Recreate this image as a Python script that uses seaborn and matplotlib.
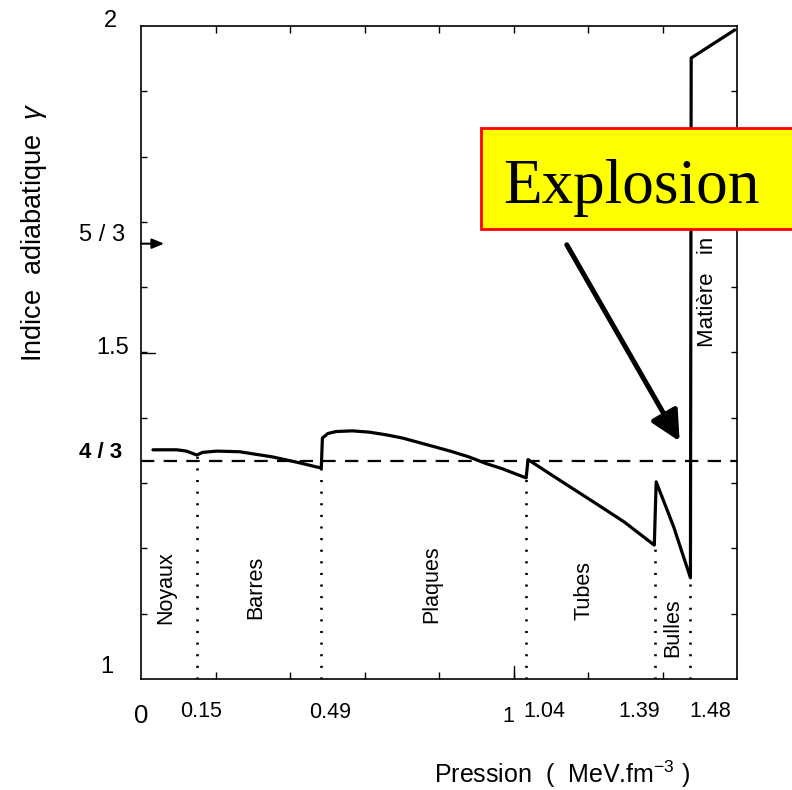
import matplotlib
matplotlib.use("Agg")
import matplotlib.pyplot as plt
from matplotlib.patches import Rectangle, FancyArrowPatch
import seaborn as sns
import numpy as np

# ---------------- data ----------------
pressure = [0.032, 0.096, 0.122, 0.145, 0.150, 0.165, 0.203, 0.265, 0.354, 0.426, 0.484,
            0.487, 0.502, 0.524, 0.568, 0.613, 0.658, 0.702, 0.747, 0.792, 0.836,
            0.881, 0.926, 0.970, 1.015, 1.034,
            1.039, 1.117, 1.207, 1.296, 1.378,
            1.383, 1.430, 1.475,
            1.477, 1.594]
gamma = [1.351, 1.351, 1.349, 1.344, 1.343, 1.347, 1.349, 1.348, 1.340, 1.331, 1.323,
         1.369, 1.376, 1.379, 1.380, 1.378, 1.374, 1.369, 1.362, 1.355, 1.348,
         1.340, 1.330, 1.322, 1.312, 1.308,
         1.336, 1.307, 1.274, 1.241, 1.205,
         1.302, 1.233, 1.155,
         1.951, 1.994]

boundaries = [0.150, 0.484, 1.034, 1.380, 1.475]
boundary_gamma = [1.343, 1.323, 1.308, 1.205, 1.155]

phase_names = ["Noyaux", "Barres", "Plaques", "Tubes", "Bulles", "Matière   in"]
phase_x = [0.067, 0.307, 0.780, 1.189, 1.427, 1.521]
phase_y = [1.140, 1.140, 1.145, 1.136, 1.079, 1.508]

ytick_values = [2.0, 5 / 3, 1.5, 4 / 3, 1.0]
ytick_labels = ["2", "5 / 3", "1.5", "4 / 3", "1"]

xtick_values = [0.0, 0.15, 0.49, 1.0, 1.04, 1.39, 1.48]
xtick_labels = ["0", "0.15", "0.49", "1", "1.04", "1.39", "1.48"]

reference_gamma = 4 / 3
explosion_start = (1.143, 1.665)
explosion_tip = (1.446, 1.364)

# ---------------- style ----------------
sns.set_style("ticks")
plt.rcParams["font.family"] = ["Liberation Sans", "DejaVu Sans"]
plt.rcParams["mathtext.fontset"] = "custom"
plt.rcParams["mathtext.rm"] = "Liberation Sans"
plt.rcParams["mathtext.it"] = "Liberation Sans:italic"
for k in ["text.color", "axes.labelcolor", "xtick.color", "ytick.color", "axes.edgecolor"]:
    plt.rcParams[k] = "black"

W, H = 792, 790
fig = plt.figure(figsize=(W / 100, H / 100), dpi=100)
L, R, B, T = 141, 737, 679, 26
ax = fig.add_axes([L / W, 1 - B / H, (R - L) / W, (B - T) / H])

sns.lineplot(x=pressure, y=gamma, sort=False, estimator=None, color="black",
             linewidth=2.3, ax=ax, zorder=5)

ax.axhline(reference_gamma, color="black", linewidth=1.6,
           linestyle=(0, (6.0, 4.2)), zorder=3)

ax.vlines(boundaries, [1.0] * len(boundaries), boundary_gamma, colors="black",
          linewidth=1.9, linestyles=[(0, (0.8, 3.6))], zorder=2)

ax.set_xlim(0, 1.6)
ax.set_ylim(1, 2)
ax.set_xticks(np.arange(0.2, 1.5, 0.2))
ax.set_yticks(np.arange(1.1, 2.0, 0.1))
ax.set_xticklabels([])
ax.set_yticklabels([])
ax.tick_params(axis="x", direction="in", top=True, bottom=True, length=5.2,
               width=1.0, color="black")
ax.tick_params(axis="y", direction="in", left=True, right=True, length=4.0,
               width=1.0, color="black")
for sp in ax.spines.values():
    sp.set_linewidth(1.2)
    sp.set_color("black")
ax.set_facecolor("white")

# longer tick marks at y=1.5 (left) and x=1 (bottom)
ax.axhline(1.5, xmin=0, xmax=14 / (R - L), color="black", lw=1.0)
ax.axvline(1.0, ymin=0, ymax=13 / (B - T), color="black", lw=1.0)

# small arrow at 5/3 on the left
ax.annotate("", xy=(0.062, 5 / 3), xytext=(0.0, 5 / 3),
            arrowprops=dict(arrowstyle="-|>,head_length=0.6,head_width=0.25",
                            lw=1.5, color="black", shrinkA=0, shrinkB=0,
                            mutation_scale=12), annotation_clip=False)

# y tick labels (baseline near value)
ylab_center_px = [110, 102, 113, 100.5, 107]
ylab_baseline_dy = [-1, 3, -1, 3, 6]
for val, lab, cx, dy in zip(ytick_values, ytick_labels, ylab_center_px, ylab_baseline_dy):
    bold = lab == "4 / 3"
    ax.annotate(lab, xy=(0, val), xycoords="data",
                xytext=((cx - L) * 0.72, dy * 0.72), textcoords="offset points",
                ha="center", va="baseline", fontsize=16 if bold else 17,
                fontweight="bold" if bold else "normal", annotation_clip=False)

# x tick labels
xlab_dx_px = [0.5, 4, 7, -5.5, 15.6, -20, 17.7]
xlab_base_px = [723, 717, 718, 722, 717, 717, 717]
for val, lab, dx, by in zip(xtick_values, xtick_labels, xlab_dx_px, xlab_base_px):
    big = lab == "0"
    ax.annotate(lab, xy=(val, 1.0), xycoords="data",
                xytext=(dx * 0.72, -(by - B) * 0.72), textcoords="offset points",
                ha="center", va="baseline", fontsize=18.5 if big else 15.5,
                annotation_clip=False)

# phase labels
for name, px, py in zip(phase_names, phase_x, phase_y):
    va = "bottom" if name.startswith("Mat") else "center"
    ax.text(px, py, name, rotation=90, ha="center", va=va,
            fontsize=16 if name.startswith("Mat") else 15.5, zorder=4)

# axis labels
ax.set_ylabel("Indice  adiabatique  $\\mathit{\\gamma}$", fontsize=19.5)
ax.yaxis.set_label_coords((34 - L) / (R - L), (B - 232) / (B - T))
ax.yaxis.label.set_va("center")
ax.set_xlabel("Pression  (  MeV.fm$^{\\mathregular{-3}}$ )", fontsize=18)
ax.xaxis.set_label_coords((562 - L) / (R - L), (B - 774) / (B - T))
ax.xaxis.label.set_va("center")

# Explosion arrow
arr = FancyArrowPatch(explosion_start, explosion_tip,
                      arrowstyle="-|>,head_length=0.9,head_width=0.45",
                      mutation_scale=20, lw=3.6, color="black",
                      shrinkA=0, shrinkB=0, zorder=6)
ax.add_patch(arr)

# Explosion box (figure coords, extends beyond right edge)
box = Rectangle((481 / W, 1 - 229 / H), 1.2, 101 / H, transform=fig.transFigure,
                facecolor="#ffff00", edgecolor="#ff0000", lw=2.0, zorder=10)
fig.add_artist(box)
fig.text(503 / W, 1 - 203 / H, "Explosion", fontfamily="Liberation Serif",
         fontsize=45.5, ha="left", va="baseline", color="black", zorder=11)

fig.savefig("out.png", dpi=100, facecolor="white")
